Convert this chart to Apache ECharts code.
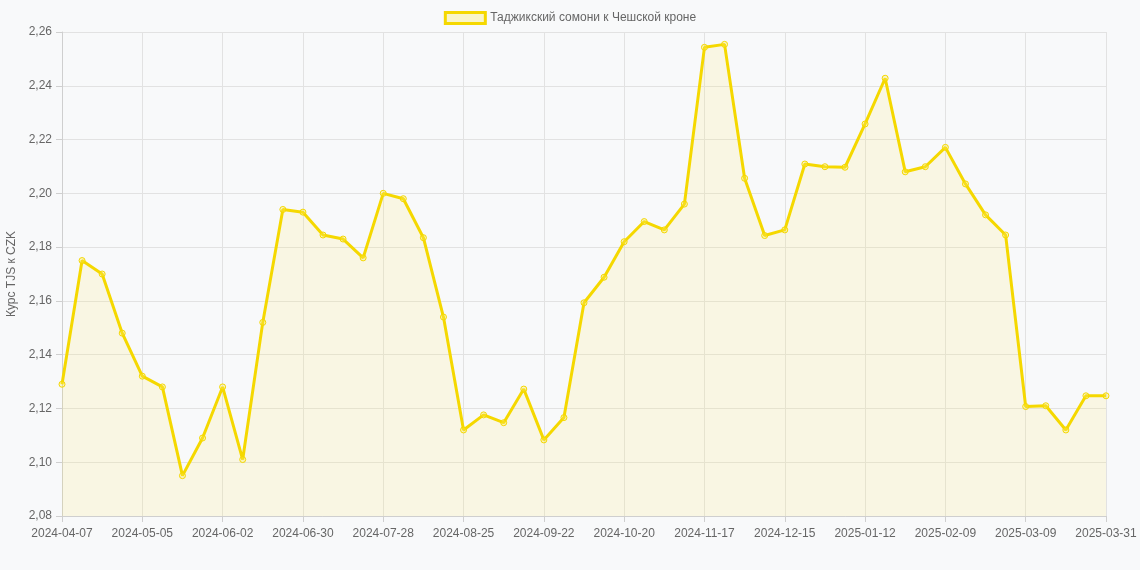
<!DOCTYPE html>
<html>
<head>
<meta charset="utf-8">
<script src="https://cdn.jsdelivr.net/npm/echarts@6/dist/echarts.min.js"></script>
<style>
html,body{margin:0;padding:0;background:#f8f9fa;}
#chart{width:1140px;height:570px;}
</style>
</head>
<body>
<div id="chart"></div>
<script>
const seriesName = 'Таджикский сомони к Чешской кроне';
const yAxisName = 'Курс TJS к CZK';
const dates = [
 '2024-04-07','2024-04-14','2024-04-21','2024-04-28','2024-05-05','2024-05-12','2024-05-19','2024-05-26',
 '2024-06-02','2024-06-09','2024-06-16','2024-06-23','2024-06-30','2024-07-07','2024-07-14','2024-07-21',
 '2024-07-28','2024-08-04','2024-08-11','2024-08-18','2024-08-25','2024-09-01','2024-09-08','2024-09-15',
 '2024-09-22','2024-09-29','2024-10-06','2024-10-13','2024-10-20','2024-10-27','2024-11-03','2024-11-10',
 '2024-11-17','2024-11-24','2024-12-01','2024-12-08','2024-12-15','2024-12-22','2024-12-29','2025-01-05',
 '2025-01-12','2025-01-19','2025-01-26','2025-02-02','2025-02-09','2025-02-16','2025-02-23','2025-03-02',
 '2025-03-09','2025-03-16','2025-03-23','2025-03-30','2025-03-31'
];
const rates = [
 2.129, 2.175, 2.170, 2.148, 2.132, 2.128, 2.095, 2.109,
 2.128, 2.101, 2.152, 2.194, 2.193, 2.1845, 2.183, 2.176,
 2.200, 2.198, 2.1835, 2.154, 2.112, 2.1176, 2.1147, 2.1272,
 2.1083, 2.1166, 2.1593, 2.1688, 2.182, 2.1895, 2.1864, 2.196,
 2.2543, 2.2554, 2.2056, 2.1843, 2.1864, 2.2109, 2.2099, 2.2097,
 2.2258, 2.2428, 2.208, 2.2099, 2.2171, 2.2035, 2.192, 2.1845,
 2.1207, 2.121, 2.112, 2.1247, 2.1247
];
const yMin = 2.08, yMax = 2.26, yStep = 0.02;

const chart = echarts.init(document.getElementById('chart'));
const font = '"Liberation Sans", Arial, Helvetica, sans-serif';
chart.setOption({
  backgroundColor: '#f8f9fa',
  textStyle: {fontFamily: font},
  animation: false,
  legend: {
    top: 6,
    left: 'center',
    itemWidth: 40,
    itemHeight: 11,
    itemGap: 5,
    textStyle: {color: '#666', fontSize: 12, fontFamily: font},
    data: [{name: seriesName, icon: 'rect', itemStyle: {color: 'rgba(252,236,90,0.3)', borderColor: '#f5d800', borderWidth: 3}}]
  },
  grid: {left: 62, right: 34, top: 32, bottom: 54, containLabel: false, outerBoundsMode: 'none'},
  xAxis: {
    type: 'category',
    data: dates,
    boundaryGap: false,
    axisLine: {lineStyle: {color: '#cfcfcf'}},
    axisTick: {show: true, interval: 3, length: 6, lineStyle: {color: '#cfcfcf'}},
    axisLabel: {interval: 3, color: '#666', fontSize: 12, margin: 12, fontFamily: font},
    splitLine: {show: true, interval: 3, lineStyle: {color: '#e2e2e2'}}
  },
  yAxis: {
    type: 'value',
    min: yMin, max: yMax, interval: yStep,
    name: yAxisName,
    nameLocation: 'middle',
    nameGap: 44,
    nameTextStyle: {color: '#666', fontSize: 12, fontFamily: font},
    axisLine: {show: true, lineStyle: {color: '#cfcfcf'}},
    axisTick: {show: true, length: 6, lineStyle: {color: '#cfcfcf'}},
    axisLabel: {color: '#666', fontSize: 12, margin: 10, fontFamily: font,
      formatter: v => v.toFixed(2).replace('.', ',')},
    splitLine: {lineStyle: {color: '#e2e2e2'}}
  },
  series: [{
    name: seriesName,
    type: 'line',
    data: rates,
    symbol: 'circle',
    symbolSize: 6,
    showAllSymbol: true,
    lineStyle: {color: '#f5d800', width: 3},
    itemStyle: {color: 'rgba(252,236,90,0.3)', borderColor: '#f5d800', borderWidth: 1},
    areaStyle: {color: 'rgba(252,236,90,0.2)'}
  }]
});
</script>
</body>
</html>
